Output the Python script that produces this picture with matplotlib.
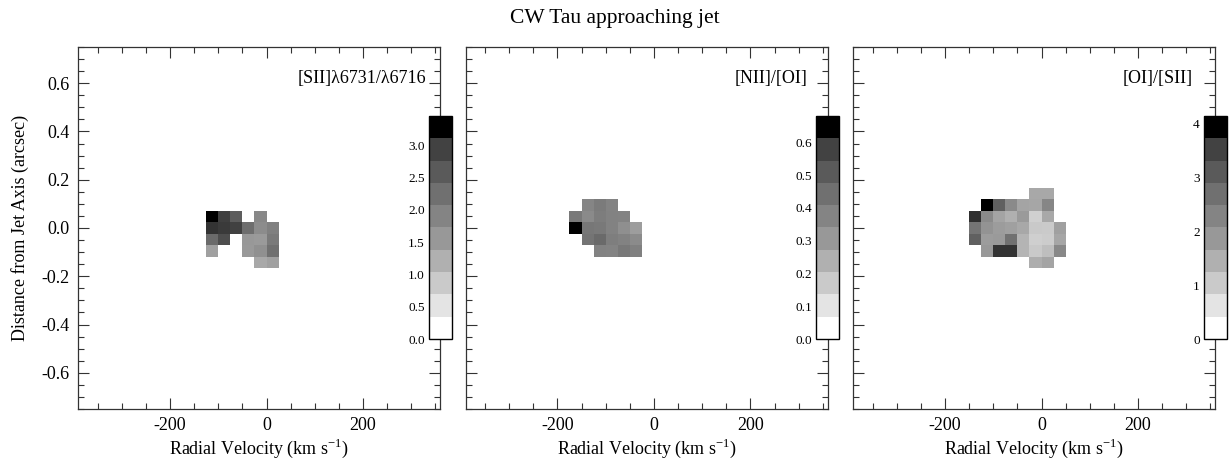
import matplotlib
matplotlib.use('Agg')
import matplotlib.pyplot as plt
import matplotlib.colors as mcolors
import matplotlib.colorbar as mcolorbar
from matplotlib.ticker import MultipleLocator, FormatStrFormatter
import numpy as np

plt.rcParams['font.family'] = ['Liberation Serif', 'DejaVu Serif']
plt.rcParams['mathtext.fontset'] = 'custom'
plt.rcParams['mathtext.rm'] = 'Liberation Serif'
plt.rcParams['axes.unicode_minus'] = False

nan = np.nan

# [SII] 6731/6716 ratio map
sii_vel = [-112.5, -87.5, -62.5, -37.5, -12.5, 12.5]
sii_off = [0.0475, 0.0, -0.0475, -0.095, -0.1425]
sii_ratio = [
    [3.45, 3.08, 2.62, nan, 1.84, nan],
    [3.15, 3.11, 3.06, 2.34, 1.76, 1.99],
    [2.40, 2.89, nan, 1.53, 1.50, 2.11],
    [1.41, nan, nan, 1.52, 1.69, 2.30],
    [nan, nan, nan, nan, 1.27, 1.41],
]

# [NII]/[OI] ratio map
nii_vel = [-162.5, -137.5, -112.5, -87.5, -62.5, -37.5]
nii_off = [0.095, 0.0475, 0.0, -0.0475, -0.095]
nii_ratio = [
    [nan, 0.374, 0.410, 0.381, nan, nan],
    [0.419, 0.355, 0.404, 0.385, 0.381, nan],
    [0.680, 0.427, 0.419, 0.385, 0.336, 0.287],
    [nan, 0.438, 0.474, 0.400, 0.385, 0.351],
    [nan, nan, 0.385, 0.381, 0.423, 0.393],
]

# [OI]/[SII] ratio map
oi_vel = [-137.5, -112.5, -87.5, -62.5, -37.5, -12.5, 12.5, 37.5]
oi_off = [0.1425, 0.095, 0.0475, 0.0, -0.0475, -0.095, -0.1425]
oi_ratio = [
    [nan, nan, nan, nan, nan, 1.53, 1.53, nan],
    [nan, 4.13, 3.07, 2.16, 1.61, 1.57, 2.25, nan],
    [3.80, 2.16, 1.61, 1.38, 1.80, 0.81, 1.53, nan],
    [2.66, 1.95, 1.76, 1.69, 1.53, 0.95, 0.92, 1.69],
    [3.09, 1.76, 1.80, 2.73, 1.31, 0.83, 0.90, 1.57],
    [nan, 1.84, 3.76, 3.76, 1.31, 0.95, 1.13, 2.20],
    [nan, nan, nan, nan, nan, 1.45, 1.61, nan],
]

panel_labels = ['[SII]λ6731/λ6716', '[NII]/[OI]', '[OI]/[SII]']
cbar_max = [3.45, 0.68, 4.13]
cbar_ticks = [[0.0, 0.5, 1.0, 1.5, 2.0, 2.5, 3.0],
              [0.0, 0.1, 0.2, 0.3, 0.4, 0.5, 0.6],
              [0, 1, 2, 3, 4]]
cbar_fmt = ['%.1f', '%.1f', '%d']

# grey ramp (white -> black), 10 steps like the original colour bar
grey = np.array([255, 228, 202, 176, 152, 132, 112, 90, 66, 0]) / 255.0
grey_rgb = [(g, g, g) for g in grey]
cmap_cont = mcolors.LinearSegmentedColormap.from_list('ramp', grey_rgb)
cmap_band = mcolors.ListedColormap(grey_rgb)


def edges(c):
    c = np.asarray(c, dtype=float)
    d = c[1] - c[0]
    return np.concatenate([c - d / 2, [c[-1] + d / 2]])


W, H = 1230, 466
fig = plt.figure(figsize=(W / 100, H / 100), dpi=100)

ax_left = [78.3, 465.7, 853.3]
ax_w = 362.0
ax_top, ax_bot = 47, 409
lab_x = [0.961, 0.945, 0.937]

maps = [(sii_vel, sii_off, sii_ratio), (nii_vel, nii_off, nii_ratio),
        (oi_vel, oi_off, oi_ratio)]

for i, (vel, off, val) in enumerate(maps):
    ax = fig.add_axes([ax_left[i] / W, (H - ax_bot) / H, ax_w / W,
                       (ax_bot - ax_top) / H])
    ax.pcolormesh(edges(vel), edges(off), np.ma.masked_invalid(np.array(val)),
                  cmap=cmap_cont, vmin=0, vmax=cbar_max[i])
    ax.set_xlim(-390, 360)
    ax.set_ylim(-0.75, 0.75)
    ax.xaxis.set_major_locator(MultipleLocator(200))
    ax.xaxis.set_minor_locator(MultipleLocator(50))
    ax.yaxis.set_major_locator(MultipleLocator(0.2))
    ax.yaxis.set_minor_locator(MultipleLocator(0.05))
    ax.yaxis.set_major_formatter(FormatStrFormatter('%.1f'))
    ax.tick_params(which='both', direction='in', top=True, right=True,
                   width=0.8, color='#333333', labelsize=13)
    ax.tick_params(which='major', length=8, pad=6)
    ax.tick_params(which='minor', length=4)
    for s in ax.spines.values():
        s.set_linewidth(0.9)
        s.set_color('#333333')
    if i > 0:
        ax.set_yticklabels([])
    else:
        ax.set_ylabel('Distance from Jet Axis (arcsec)', fontsize=13, labelpad=9)
    ax.set_xlabel(r'Radial Velocity (km s$^{\mathregular{-1}}$)', fontsize=13,
                  labelpad=2)
    ax.text(lab_x[i], 0.914, panel_labels[i], transform=ax.transAxes,
            ha='right', va='center', fontsize=13)

    # colour bar straddling the right axis
    cx = ax_left[i] + ax_w - 11.5
    cax = fig.add_axes([cx / W, (H - 339) / H, 23 / W, (339 - 116) / H])
    cb = mcolorbar.ColorbarBase(cax, cmap=cmap_band,
                                norm=mcolors.Normalize(0, cbar_max[i]),
                                ticks=cbar_ticks[i], format=cbar_fmt[i])
    cb.outline.set_linewidth(1.0)
    cax.yaxis.set_ticks_position('left')
    cax.tick_params(length=0, labelsize=9.5, pad=3)

fig.text(0.5, 1 - 18 / H, 'CW Tau approaching jet', ha='center', va='center',
         fontsize=15.5)

fig.savefig('out.png', dpi=100)
